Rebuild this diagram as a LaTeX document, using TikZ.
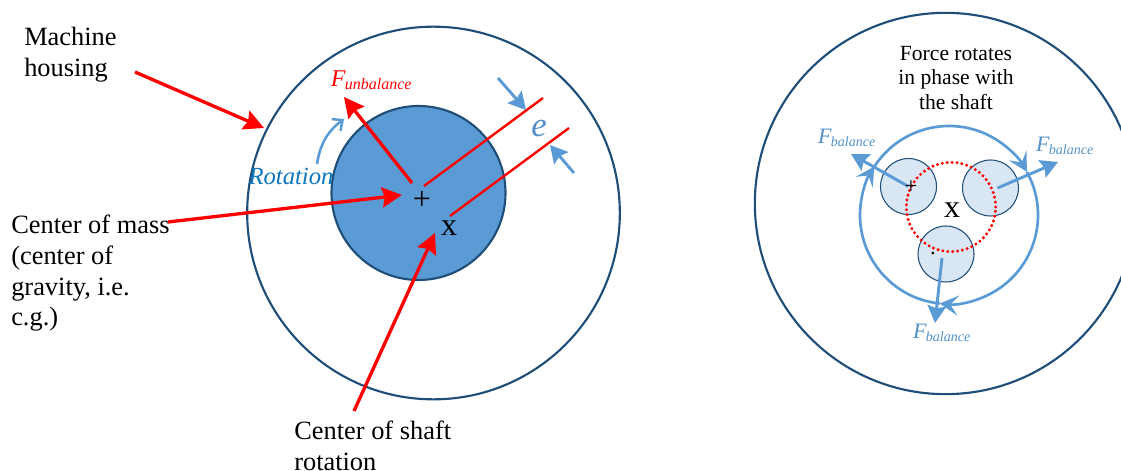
\documentclass[tikz,border=0pt]{standalone}
\usepackage{amsmath}
\usepackage{fontspec}
\setmainfont{Liberation Serif}
\usetikzlibrary{positioning,arrows.meta,calc}
\definecolor{rimblue}{HTML}{1F4E79}
\definecolor{shaftblue}{HTML}{5B9BD5}
\definecolor{paleblue}{HTML}{D9E7F5}
\definecolor{rotblue}{HTML}{0F75BD}
\newcommand{\fbal}{\fontsize{16.5}{18}\selectfont F\textsubscript{\kern-0.5pt\fontsize{10.5}{10.5}\selectfont balance}}
\begin{document}
\begin{tikzpicture}[x=0.75pt, y=-0.75pt, >=Stealth, font=\fontsize{19.8}{23}\selectfont,
  rim/.style={draw=rimblue, line width=1.6pt},
  weight/.style={circle, draw=rimblue, line width=0.8pt, fill=paleblue, minimum size=42pt, inner sep=0pt},
  redarrow/.style={red, line width=2.5pt, -{Stealth[length=15pt,width=15pt,inset=2pt]}},
  redline/.style={red, line width=1.8pt},
  bluearrow/.style={shaftblue, line width=2.2pt, -{Stealth[length=13pt,width=14pt,inset=2pt]}},
  ringarrow/.style={shaftblue, line width=2pt, -{Stealth[length=14pt,width=15pt,inset=6pt]}},
  lbl/.style={align=left, anchor=north west, inner sep=0pt},
  flabel/.style={text=shaftblue!85!rimblue, inner sep=0pt, font=\itshape}]
  \useasboundingbox (0,0) rectangle (1121,471);
  % left part
  \node[circle, rim, minimum size=279.5pt, inner sep=0pt] (housing) at (433.5,213) {};
  \node[circle, rim, fill=shaftblue, minimum size=130.5pt, inner sep=0pt] (shaft) at (418.5,193) {};
  \node[inner sep=0pt, font=\fontsize{24}{24}\selectfont] (mass) at (422,200) {+};
  \node[inner sep=0pt, font=\fontsize{24}{24}\selectfont] (spin) at (449,228) {x};
  \node[lbl] (machine) at (24,27) {Machine\\housing};
  \node[lbl] (cgtext) at (11,215) {Center of mass\\(center of\\gravity, i.e.\\c.g.)};
  \node[lbl] (spintext) at (294,421) {Center of shaft\\\smash{rotation}};
  \node[inner sep=0pt, text=red, font=\fontsize{18}{20}\selectfont\itshape] (funb) at (371.5,80) {F\textsubscript{\kern-0.5pt\fontsize{12}{12}\selectfont unbalance}};
  \node[inner sep=0pt, text=rotblue, font=\fontsize{18.5}{20}\selectfont\itshape] (rottext) at (291,176) {Rotation};
  \node[inner sep=0pt, text=shaftblue!85!rimblue, font=\fontsize{26}{26}\selectfont\itshape] (ecc) at (539,129) {e};
  \coordinate (machinefrom) at (135,72);
  \coordinate (machineto) at (264,128);
  \coordinate (cgfrom) at (168,222);
  \coordinate (cgto) at (402,195);
  \coordinate (spinfrom) at (354,411);
  \coordinate (spinto) at (435,233);
  \coordinate (funbfrom) at (412,183);
  \coordinate (funbto) at (344,97);
  \coordinate (lineAa) at (424,186);
  \coordinate (lineAb) at (543,98);
  \coordinate (lineBa) at (450,216);
  \coordinate (lineBb) at (569,128);
  \coordinate (eAfrom) at (498,78);
  \coordinate (eAto) at (526,110);
  \coordinate (eBfrom) at (574,173);
  \coordinate (eBto) at (550,145);
  \coordinate (rotfrom) at (317,164);
  \coordinate (rotto) at (344,119);
  \draw[redarrow] (machinefrom) -- (machineto);
  \draw[redarrow] (cgfrom) -- (cgto);
  \draw[redarrow] (spinfrom) -- (spinto);
  \draw[redarrow] (funbfrom) -- (funbto);
  \draw[redline] (lineAa) -- (lineAb);
  \draw[redline] (lineBa) -- (lineBb);
  \draw[bluearrow] (eAfrom) -- (eAto);
  \draw[bluearrow] (eBfrom) -- (eBto);
  \draw[shaftblue, line width=1.9pt, -{Straight Barb[length=6pt,width=11pt]}] (rotfrom) to[bend left=22] (rotto);
  % right part
  \node[circle, rim, minimum size=286pt, inner sep=0pt] (outer) at (945.5,203.5) {};
  \node[align=center, inner sep=0pt, font=\fontsize{16.2}{18.6}\selectfont] (phase) at (956,78) {Force rotates\\in phase with\\the shaft};
  \coordinate (ring) at (949,215);
  \draw[ringarrow] ($(ring)+(-147:89)$) arc[start angle=-147, end angle=-29, radius=89];
  \draw[ringarrow] ($(ring)+(-29:89)$) arc[start angle=-29, end angle=96, radius=89];
  \draw[ringarrow] ($(ring)+(96:89)$) arc[start angle=96, end angle=213, radius=89];
  \node[weight] (wA) at (908.5,186.5) {};
  \node[weight] (wB) at (990.5,188) {};
  \node[weight] (wC) at (946,254) {};
  \draw[red, dash pattern=on 0pt off 3.7pt, line cap=round, line width=2.5pt] (951,207) circle[radius=33.5pt];
  \node[flabel] (fA) at (847,138) {\fbal};
  \node[flabel] (fB) at (1065,146) {\fbal};
  \node[flabel] (fC) at (942,333) {\fbal};
  \coordinate (fAto) at (851,154);
  \coordinate (fBto) at (1058,162);
  \coordinate (fCto) at (935,323);
  \draw[bluearrow] (wA.center) -- (fAto);
  \draw[bluearrow] (wB.center) ++(7,0) -- (fBto);
  \draw[bluearrow] (wC.center) ++(-4,4) -- (fCto);
  \node[inner sep=0pt, font=\fontsize{24}{24}\selectfont] (centerx) at (952,210) {x};
  \node[inner sep=0pt, font=\fontsize{17}{17}\selectfont] (plusA) at (911,187) {+};
  \node[inner sep=0pt, font=\fontsize{17}{17}\selectfont] (dotC) at (933,253) {.};
\end{tikzpicture}
\end{document}
